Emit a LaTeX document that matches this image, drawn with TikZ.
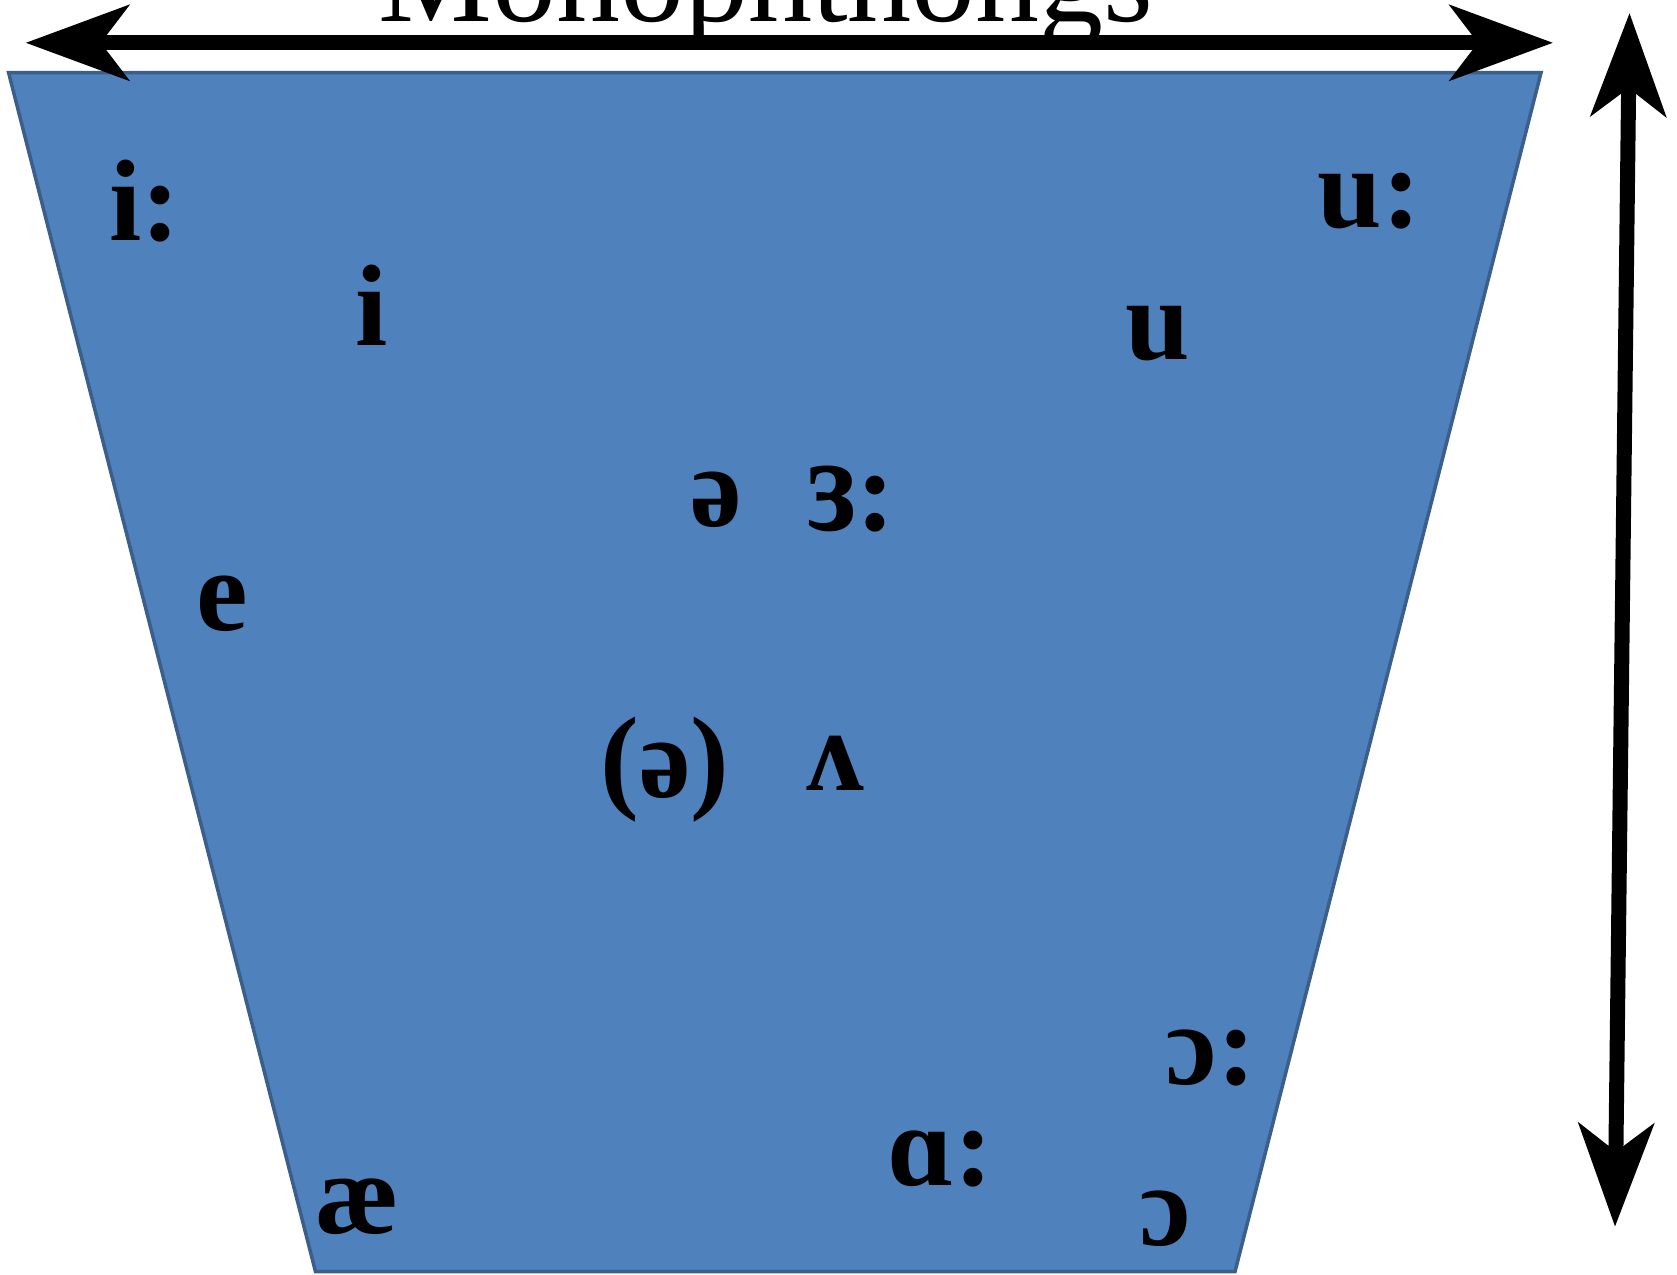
\documentclass[tikz,border=0pt]{standalone}
\usepackage{fontspec}
\setmainfont{Liberation Serif}
\usetikzlibrary{arrows.meta}
\definecolor{trapfill}{HTML}{4F81BD}
\definecolor{trapline}{HTML}{3A5F8B}
\tikzset{
  bigtip/.tip={Stealth[length=103pt,width=75pt,inset=28pt]},
  bigarrow/.style={line width=15pt,{bigtip}-{bigtip}},
  vowel/.style={inner sep=0pt,anchor=base,font=\fontsize{116pt}{116pt}\selectfont\bfseries},
  titletext/.style={inner sep=0pt,anchor=base,font=\fontsize{128pt}{128pt}\selectfont}
}
\begin{document}
\begin{tikzpicture}[x=1pt,y=-1pt]
\useasboundingbox (0,0) rectangle (1677,1274);
% trapezoid (vowel space)
\draw[fill=trapfill,draw=trapline,line width=3.5pt,line join=miter]
  (8.6,72.7) -- (1541,72.7) -- (1235,1271.6) -- (315.5,1271.6) -- cycle;
% vowels
\node[vowel] (iL) at (144.5,240) {i:};
\node[vowel] (i) at (371.5,345) {i};
\node[vowel] (uL) at (1369.5,227) {u:};
\node[vowel] (u) at (1157.5,359) {u};
\node[vowel] (schwa) at (716,526) {ə};
\node[vowel] (erL) at (851.5,530) {\scalebox{1}[1.18]{ɜ}:};
\node[vowel] (e) at (222,630) {e};
\node[vowel] (schwap) at (665,797) {(ə)};
\node[vowel] (wedge) at (835,790) {ʌ};
\node[vowel] (oL) at (1211,1084) {ɔ:};
\node[vowel] (aL) at (940,1185) {ɑ:};
\node[vowel] (o) at (1165,1245) {ɔ};
\node[vowel] (ae) at (357,1233) {æ};
% horizontal arrow
\coordinate (hl) at (25.7,42.8);
\coordinate (hr) at (1553,42.8);
\draw[bigarrow] (hl) -- (hr);
\node[titletext] (title) at (766,21) {Monophthongs};
% vertical arrow
\coordinate (vt) at (1629.5,13);
\coordinate (vb) at (1615,1226.7);
\draw[bigarrow] (vt) -- (vb);
\end{tikzpicture}
\end{document}
